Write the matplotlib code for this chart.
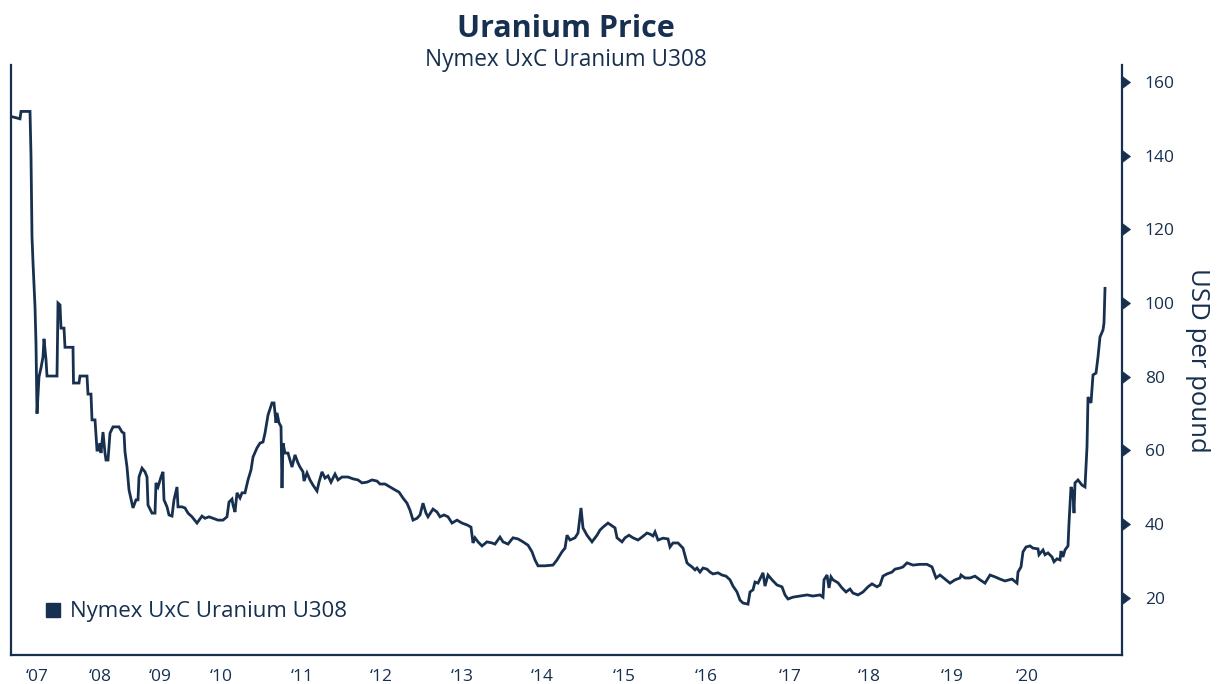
import matplotlib
matplotlib.use("Agg")
import matplotlib.pyplot as plt
from matplotlib.lines import Line2D

NAVY = "#17304f"
plt.rcParams['font.family'] = ['Open Sans', 'DejaVu Sans']

# observation index along the chart (the x axis is not linear in time)
obs = [
    0, 7, 8, 17, 18, 19, 20, 22, 23, 24,
    26, 28, 30, 31, 33, 34, 44, 45, 47, 48,
    51, 52, 60, 60.5, 66, 67, 74, 75, 78, 79,
    82, 84, 86, 87, 88, 90, 92, 93, 95, 97,
    100, 106, 109, 111, 112, 114, 116, 119, 120, 123,
    125, 126, 129, 132, 134, 135, 139, 142, 143, 145,
    148, 150, 151, 154, 156, 159, 161, 164, 165, 169,
    172, 175, 179, 184, 189, 192, 196, 200, 205, 210,
    214, 216, 219, 220, 222, 224, 227, 229, 232, 235,
    238, 240, 244, 247, 250, 252, 255, 259, 261, 263,
    264, 266, 268, 269, 270, 272, 275, 279, 282, 285,
    287, 290, 291, 294, 297, 300, 304, 306, 309, 312,
    315, 318, 322, 325, 329, 335, 340, 345, 349, 354,
    359, 364, 367, 372, 377, 382, 386, 390, 394, 397,
    400, 404, 407, 410, 413, 415, 420, 424, 427, 431,
    435, 439, 444, 449, 454, 458, 460, 462, 465, 469,
    474, 479, 482, 487, 490, 495, 500, 505, 510, 515,
    519, 522, 525, 532, 540, 544, 549, 552, 554, 557,
    562, 565, 568, 570, 574, 579, 584, 587, 590, 595,
    602, 604, 609, 612, 616, 620, 625, 629, 634, 637,
    640, 642, 645, 650, 655, 657, 660, 665, 670, 674,
    676, 679, 682, 684, 687, 690, 694, 697, 700, 705,
    709, 713, 717, 720, 724, 727, 730, 735, 737, 740,
    742, 745, 750, 752, 755, 759, 764, 769, 772, 775,
    780, 787, 794, 800, 807, 810, 811, 814, 816, 818,
    820, 825, 829, 833, 837, 840, 845, 850, 855, 859,
    864, 867, 870, 874, 879, 882, 887, 890, 894, 900,
    907, 914, 919, 923, 927, 932, 937, 942, 947, 948,
    952, 957, 962, 967, 972, 977, 982, 987, 992, 999,
    1004, 1005, 1008, 1010, 1013, 1017, 1020, 1025, 1026, 1030,
    1032, 1035, 1039, 1041, 1044, 1047, 1048, 1050, 1052, 1055,
    1056, 1058, 1060, 1061, 1062, 1065, 1069, 1072, 1074, 1075,
    1078, 1080, 1083, 1085, 1087, 1090, 1091, 1092,
]

price = [
    150.5, 150, 152, 152, 140, 118, 111, 99, 89, 70,
    80, 82.4, 85.4, 90.3, 84.6, 80.2, 80.2, 100, 99.5, 93.2,
    93.2, 88, 88, 78.3, 78.3, 80.2, 80.2, 75.3, 75.3, 68.3,
    68.3, 60.1, 60.1, 62, 59.3, 65, 59.3, 57.4, 57.4, 64.7,
    66.4, 66.4, 65, 64.7, 59.6, 55.5, 49.3, 45.7, 44.4, 46.6,
    46.6, 52.8, 55.2, 54.2, 52.8, 45.2, 43, 43, 51.2, 50.1,
    52.8, 54.2, 46.6, 44.7, 42.5, 42.2, 46.6, 50.1, 44.7, 44.7,
    44.4, 43, 42, 40.3, 42.2, 41.6, 42, 41.6, 41.1, 41.1,
    42, 46, 46.8, 45.2, 43.3, 48.5, 47.1, 48.5, 48.5, 52,
    54.7, 58.2, 60.7, 62, 62.3, 64.7, 69.6, 72.9, 72.9, 67.5,
    70.2, 67.5, 66.5, 49.8, 62, 59.3, 59.3, 55.5, 58.8, 56.6,
    55.5, 54.2, 51.7, 53.9, 52, 50.6, 49, 51.4, 54.2, 52.5,
    53.1, 51.4, 53.6, 52, 52.8, 52.8, 52.3, 52, 51.2, 51.4,
    52, 51.7, 50.9, 50.9, 50.1, 49.3, 48.7, 47.1, 45.7, 43.8,
    41.1, 41.6, 42.5, 45.7, 43, 42, 44.1, 43.3, 42, 42.5,
    42, 40.3, 41.1, 40.3, 39.8, 39.2, 34.9, 36.3, 35.2, 34.1,
    35.2, 34.9, 34.6, 36.5, 35.2, 34.6, 36.3, 36, 35.2, 34.3,
    32.5, 30.3, 28.7, 28.7, 28.9, 30.3, 32.5, 33.5, 37, 35.7,
    36.3, 37.6, 44.4, 39, 37, 35.2, 37, 38.4, 39.2, 40.3,
    39, 36.3, 35.2, 36.3, 37, 36.3, 35.7, 36.5, 37.6, 37.3,
    36.8, 37.9, 35.7, 36.2, 36, 33.8, 34.9, 34.9, 33.5, 29.5,
    29, 28.4, 27.6, 28.1, 27, 28.1, 27.8, 27, 26.5, 26.8,
    26.2, 25.9, 24.9, 23.2, 21.6, 19.4, 18.6, 18.3, 21.6, 22.2,
    24.3, 24, 26.8, 23.2, 26.2, 24.9, 23.5, 23, 20.8, 19.7,
    20.2, 20.5, 20.8, 20.5, 20.8, 20.2, 24.9, 26.2, 22.7, 25.7,
    24.9, 24.1, 22.7, 21.6, 22.4, 21.3, 20.8, 21.6, 23, 23.8,
    23, 23.5, 25.9, 26.5, 27, 27.8, 28.1, 28.4, 29.5, 28.9,
    29.1, 29.1, 28.4, 25.4, 26.2, 25.1, 24, 24.9, 25.4, 26.2,
    25.4, 25.4, 25.9, 24.9, 24, 26.2, 25.7, 25.1, 24.6, 25.1,
    24, 27, 28.4, 32.5, 33.8, 34.1, 33.5, 33.3, 31.7, 33,
    31.7, 32.2, 31.1, 29.8, 30.6, 30.3, 32.7, 31.1, 33, 34.1,
    40.3, 50.1, 48.5, 43, 51.2, 52, 50.6, 50.1, 61, 74.5,
    72.9, 80.5, 81, 85.4, 90.8, 92.7, 94.6, 104,
]

year_pos = [24, 87, 147, 208, 289, 368, 449, 529, 611, 693, 777, 856, 939, 1014]
year_labels = ["\u201807", "\u201808", "\u201809", "\u201810", "\u201811", "\u201812",
               "\u201813", "\u201814", "\u201815", "\u201816", "\u201817", "\u201818",
               "\u201819", "\u201820"]
y_ticks = [20, 40, 60, 80, 100, 120, 140, 160]

fig = plt.figure(figsize=(12.22, 6.84), dpi=100)
ax = fig.add_axes([11 / 1222, 29 / 684, 1111 / 1222, 590 / 684])

ax.plot(obs, price, color=NAVY, linewidth=2.0, solid_joinstyle="miter")

ax.set_xlim(-2, 1109)
ax.set_ylim(4.5, 164.6)

for side in ["left", "bottom", "right"]:
    ax.spines[side].set_color(NAVY)
    ax.spines[side].set_linewidth(1.6)
ax.spines["top"].set_visible(False)

ax.set_xticks(year_pos)
ax.set_xticklabels(year_labels)
ax.tick_params(axis="x", length=0, pad=10, labelsize=12.5, labelcolor=NAVY)

ax.yaxis.tick_right()
ax.yaxis.set_label_position("right")
ax.set_yticks(y_ticks)
ax.tick_params(axis="y", pad=13, labelsize=12.5, labelcolor=NAVY)
for t in ax.yaxis.get_major_ticks():
    t.tick2line.set_marker(9)
    t.tick2line.set_markersize(8)
    t.tick2line.set_markerfacecolor(NAVY)
    t.tick2line.set_markeredgecolor(NAVY)
    t.tick2line.set_markeredgewidth(0.5)

ax.set_ylabel("USD per pound", rotation=-90, labelpad=25, fontsize=18.5, color=NAVY)

handle = Line2D([], [], marker="s", linestyle="none", color=NAVY, markersize=10.5)
ax.legend([handle], ["Nymex UxC Uranium U308"], loc="center left", frameon=False,
          fontsize=16, labelcolor=NAVY, handlelength=1.0, handletextpad=0.3,
          borderpad=0, borderaxespad=0,
          bbox_to_anchor=((41.5 - 11) / 1111, (655 - 612) / 590))

fig.text(566 / 1222, 1 - 37 / 684, "Uranium Price", ha="center", va="baseline",
         fontsize=22, fontweight="bold", color=NAVY)
fig.text(566 / 1222, 1 - 66 / 684, "Nymex UxC Uranium U308", ha="center", va="baseline",
         fontsize=16.3, color=NAVY)

fig.savefig("out.png", dpi=100)
